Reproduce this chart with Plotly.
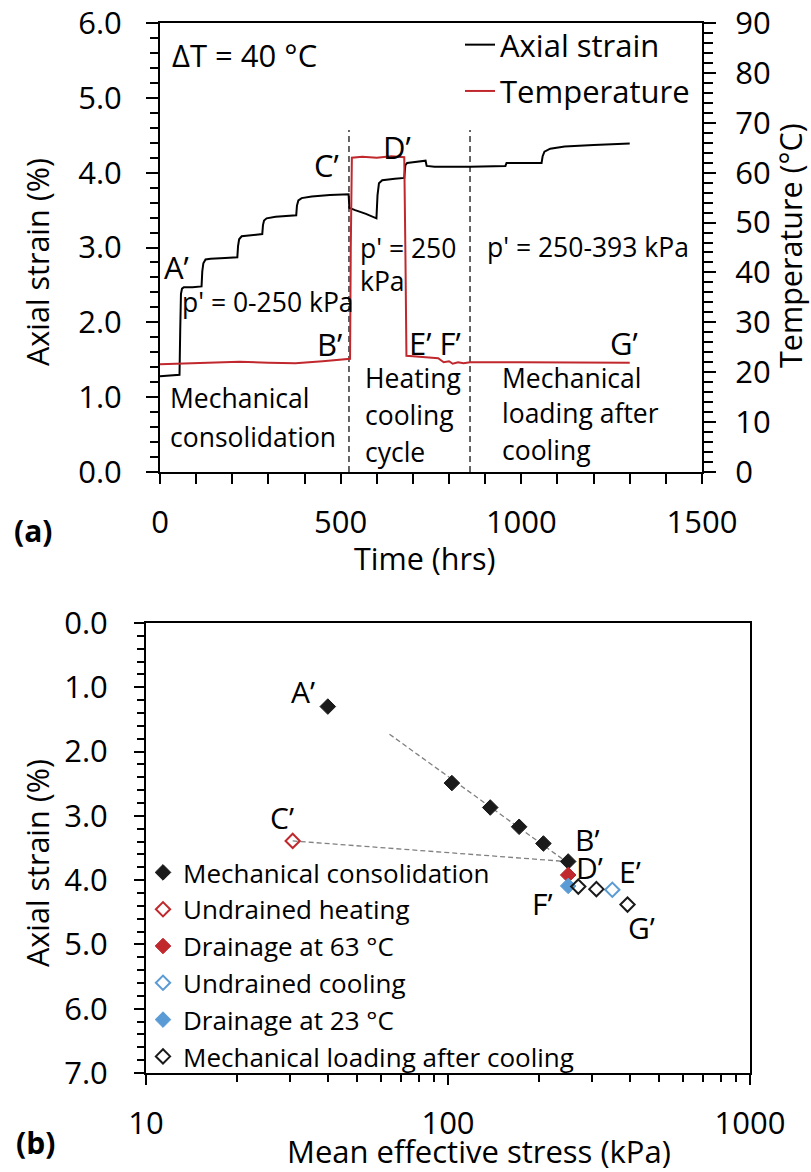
import math
import plotly.graph_objects as go

# ---------------- Panel (a): time histories ----------------
time_strain = [0, 20, 54, 56, 58, 61, 66, 90, 115, 117, 120, 126, 140, 180, 214, 216, 219, 226,
               245, 283, 285, 288, 295, 320, 377, 379, 383, 392, 420, 470, 522,
               524, 540, 570, 599, 602, 606, 615, 650, 676,
               679, 684, 700, 735, 738, 760, 858, 956, 959, 1056, 1059, 1064, 1080, 1120, 1200, 1300]
axial_strain = [1.28, 1.29, 1.30, 1.90, 2.38, 2.45, 2.47, 2.47, 2.48, 2.68, 2.79, 2.84, 2.85, 2.86, 2.87, 3.02, 3.11, 3.15,
                3.16, 3.18, 3.30, 3.36, 3.39, 3.41, 3.43, 3.56, 3.63, 3.66, 3.68, 3.70, 3.71,
                3.53, 3.50, 3.45, 3.39, 3.70, 3.86, 3.90, 3.92, 3.93,
                4.10, 4.13, 4.14, 4.16, 4.09, 4.08, 4.08, 4.09, 4.13, 4.13, 4.22, 4.28, 4.32, 4.35, 4.37, 4.39]

time_temp = [0, 100, 220, 300, 375, 450, 526, 528, 531, 560, 600, 640, 676, 679, 682, 700, 740,
             770, 785, 800, 810, 825, 840, 858, 1000, 1150, 1300]
temperature = [21.6, 21.8, 22.1, 21.9, 21.8, 22.2, 22.7, 45.0, 63.0, 63.2, 63.0, 63.3, 63.1, 45.0, 23.3, 23.2, 23.0,
               22.8, 22.0, 22.2, 21.7, 22.0, 21.8, 22.0, 22.0, 21.9, 21.9]

phase_boundaries = [523, 858]
boundary_top = 4.57

# ---------------- Panel (b): strain vs mean effective stress ----------------
mc_p, mc_eps = [40, 103, 138, 172, 207, 250], [1.30, 2.49, 2.87, 3.17, 3.43, 3.71]
uh_p, uh_eps = [30.6], [3.39]
d63_p, d63_eps = [250], [3.92]
uc_p, uc_eps = [350], [4.15]
d23_p, d23_eps = [250], [4.09]
ml_p, ml_eps = [270, 310, 393], [4.10, 4.14, 4.38]
trend_p, trend_eps = [64, 256], [1.73, 3.77]
path_p, path_eps = [30.6, 246], [3.39, 3.71]

RED = '#C0282D'
BLUE = '#5B9BD5'
FONT = 'Open Sans'
FS_TICK = 31
FS_TITLE = 30.5
FS_LEG = 31
FS_TXT = 26.5

fig = go.Figure()

# panel (a)
for tb in phase_boundaries:
    fig.add_trace(go.Scatter(x=[tb, tb], y=[0, boundary_top], mode='lines',
                             line=dict(color='#333333', width=1.5, dash='6px,4px'),
                             showlegend=False, hoverinfo='skip', xaxis='x', yaxis='y'))
fig.add_trace(go.Scatter(x=time_strain, y=axial_strain, mode='lines', name='Axial strain',
                         line=dict(color='black', width=2), legend='legend', legendgroup='a1',
                         xaxis='x', yaxis='y'))
fig.add_trace(go.Scatter(x=time_temp, y=temperature, mode='lines', name='Temperature',
                         line=dict(color=RED, width=2), legend='legend', legendgroup='a2',
                         xaxis='x', yaxis='y3'))

# panel (b)
fig.add_trace(go.Scatter(x=trend_p, y=trend_eps, mode='lines', line=dict(color='#808080', width=1.3, dash='5px,3px'),
                         showlegend=False, hoverinfo='skip', xaxis='x2', yaxis='y2'))
fig.add_trace(go.Scatter(x=path_p, y=path_eps, mode='lines', line=dict(color='#808080', width=1.3, dash='5px,3px'),
                         showlegend=False, hoverinfo='skip', xaxis='x2', yaxis='y2'))

def pts(x, y, name, symbol, color, size=12):
    return go.Scatter(x=x, y=y, mode='markers', name=name,
                      marker=dict(symbol=symbol, color=color, size=size,
                                  line=dict(color=color, width=2 if 'open' in symbol else 1)),
                      legend='legend2', xaxis='x2', yaxis='y2')

fig.add_trace(pts(mc_p, mc_eps, 'Mechanical consolidation', 'diamond', '#1a1a1a', 12))
fig.add_trace(pts(uh_p, uh_eps, 'Undrained heating', 'diamond-open', RED, 11))
fig.add_trace(pts(d63_p, d63_eps, 'Drainage at 63 °C', 'diamond', RED, 12))
fig.add_trace(pts(uc_p, uc_eps, 'Undrained cooling', 'diamond-open', BLUE, 11))
fig.add_trace(pts(d23_p, d23_eps, 'Drainage at 23 °C', 'diamond', BLUE, 12))
fig.add_trace(pts(ml_p, ml_eps, 'Mechanical loading after cooling', 'diamond-open', '#1a1a1a', 11))

W, H = 811, 1172
axcommon = dict(showgrid=False, zeroline=False, showline=True, linewidth=2, linecolor='black',
                ticks='outside', tickwidth=2, tickcolor='black', tickfont=dict(size=FS_TICK), automargin=False)

fig.update_layout(
    width=W, height=H, margin=dict(l=0, r=0, t=0, b=0, autoexpand=False),
    paper_bgcolor='white', plot_bgcolor='white',
    font=dict(family=FONT, size=FS_TICK, color='black'),
    xaxis=dict(domain=[160 / W, 702 / W], anchor='y', range=[0, 1500], tick0=0, dtick=500,
               ticklen=10, mirror=True, ticklabelstandoff=12,
               minor=dict(dtick=100, ticks='outside', ticklen=10, tickwidth=2, tickcolor='black', showgrid=False),
               **axcommon),
    yaxis=dict(domain=[1 - 472 / H, 1 - 23 / H], anchor='x', range=[0, 6], dtick=1, tickformat='.1f',
               ticklen=12, ticklabelstandoff=18,
               minor=dict(dtick=0.2, ticks='outside', ticklen=8, tickwidth=2, tickcolor='black', showgrid=False),
               **axcommon),
    yaxis3=dict(overlaying='y', side='right', anchor='x', range=[0, 90], dtick=10,
                ticklen=12, ticklabelstandoff=13,
                minor=dict(dtick=2, ticks='outside', ticklen=9, tickwidth=2, tickcolor='black', showgrid=False),
                **axcommon),
    xaxis2=dict(domain=[146 / W, 750 / W], anchor='y2', type='log', range=[1, 3],
                tickvals=[10, 100, 1000], ticktext=['10', '100', '1000'], ticklen=10, mirror=True,
                ticklabelstandoff=12,
                minor=dict(tickvals=[20, 30, 40, 50, 60, 70, 80, 90, 200, 300, 400, 500, 600, 700, 800, 900],
                           ticks='outside', ticklen=7, tickwidth=2, tickcolor='black', showgrid=False),
                **axcommon),
    yaxis2=dict(domain=[1 - 1073 / H, 1 - 623 / H], anchor='x2', range=[7, 0], dtick=1, tickformat='.1f',
                ticklen=10, mirror=True, ticklabelstandoff=20,
                minor=dict(dtick=0.2, ticks='outside', ticklen=7, tickwidth=2, tickcolor='black', showgrid=False),
                **axcommon),
    legend=dict(x=460 / W, y=1 - 18 / H, xanchor='left', yanchor='top', bgcolor='rgba(0,0,0,0)',
                font=dict(size=FS_LEG), tracegroupgap=3, traceorder='grouped'),
    legend2=dict(x=143 / W, y=1 - 849 / H, xanchor='left', yanchor='top', bgcolor='rgba(0,0,0,0)',
                 font=dict(size=26), tracegroupgap=0),
    showlegend=True,
)

ann = []
def A(text, x, y, xref='x', yref='y', xanchor='center', yanchor='middle', size=FS_TXT, **kw):
    ann.append(dict(text=text, x=x, y=y, xref=xref, yref=yref, xanchor=xanchor, yanchor=yanchor,
                    showarrow=False, font=dict(family=FONT, size=size, color='black'), **kw))

# panel (a) labels
A('ΔT = 40 °C', 27, 5.57, xanchor='left', size=31)
A('A’', 47, 2.74, size=31)
A("p' = 0-250 kPa", 55, 2.27, xanchor='left')
A('B’', 468, 1.71, size=31)
A('C’', 462, 4.10, size=31)
A('D’', 656, 4.34, size=31)
A("p' = 250", 548, 2.99, xanchor='left')
A('kPa', 548, 2.55, xanchor='left')
A("p' = 250-393 kPa", 899, 3.01, xanchor='left')
A('E’ F’', 684, 1.73, xanchor='left', size=31)
A('G’', 1284, 1.73, size=31)
A('Mechanical', 22, 0.99, xanchor='left')
A('consolidation', 22, 0.47, xanchor='left')
A('Heating', 562, 1.26, xanchor='left')
A('cooling', 562, 0.76, xanchor='left')
A('cycle', 562, 0.27, xanchor='left')
A('Mechanical', 941, 1.26, xanchor='left')
A('loading after', 941, 0.79, xanchor='left')
A('cooling', 941, 0.29, xanchor='left')

# panel (b) labels (log axis -> log10 coordinates)
A('A’', math.log10(33.1), 1.07, xref='x2', yref='y2', size=30)
A('C’', math.log10(28.2), 3.03, xref='x2', yref='y2', size=30)
A('B’', math.log10(288), 3.37, xref='x2', yref='y2', size=30)
A('D’', math.log10(295), 3.81, xref='x2', yref='y2', size=30)
A('E’', math.log10(401), 3.87, xref='x2', yref='y2', size=30)
A('F’', math.log10(206), 4.37, xref='x2', yref='y2', size=30)
A('G’', math.log10(438), 4.74, xref='x2', yref='y2', size=30)

# axis titles and panel letters (paper coords)
def P(text, px, py, **kw):
    A(text, px / W, 1 - py / H, xref='paper', yref='paper', **kw)

P('Axial strain (%)', 37, 262, textangle=-90, size=FS_TITLE)
P('Temperature (°C)', 790, 246, textangle=-90, size=FS_TITLE)
P('Time (hrs)', 425, 558, size=FS_TITLE)
P('Axial strain (%)', 37, 863, textangle=-90, size=FS_TITLE)
P('Mean effective stress (kPa)', 479, 1151, size=31)
P('<b>(a)</b>', 33, 530, size=30)
P('<b>(b)</b>', 35, 1142, size=30)

fig.update_layout(annotations=ann)
fig.write_html('out.html')
